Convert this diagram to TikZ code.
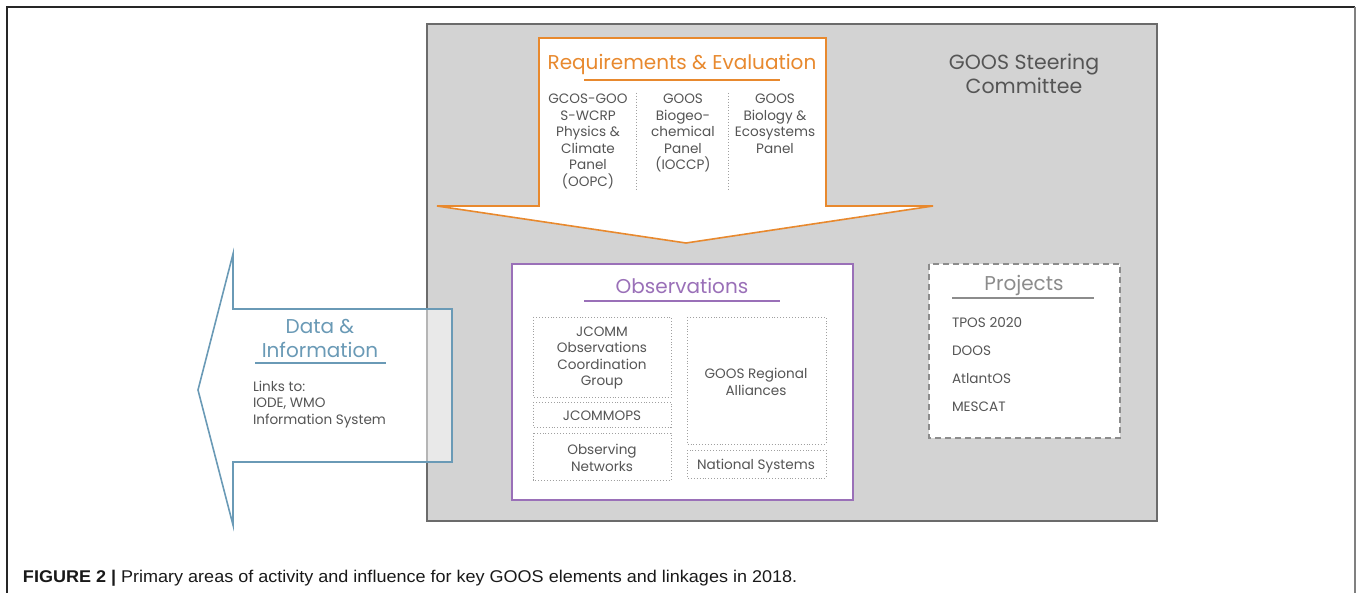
\documentclass[tikz,border=0pt]{standalone}
\usepackage{fontspec}
\setmainfont{Poppins}
\newfontfamily\capfont[FakeStretch=1.06]{Liberation Sans}
\definecolor{orangeC}{HTML}{E8892E}
\definecolor{purpleC}{HTML}{9A70B8}
\definecolor{blueC}{HTML}{6A9AB6}
\definecolor{textC}{HTML}{555555}
\definecolor{projC}{HTML}{8C8C8C}
\definecolor{steerFill}{HTML}{D3D3D3}
\definecolor{steerLine}{HTML}{6B6B6B}
\definecolor{dotC}{HTML}{A0A0A0}
\tikzset{
  body/.style={font=\fontsize{13.6}{16.6}\selectfont, text=textC, align=center},
  head/.style={font=\fontsize{20}{24}\selectfont},
  dotbox/.style={draw=dotC, dotted, line width=0.9pt},
  sep/.style={draw=dotC, dotted, line width=0.9pt},
}
\begin{document}
\begin{tikzpicture}[x=1pt,y=-1pt, every node/.style={inner sep=0pt, outer sep=0pt}]
\useasboundingbox (0,0) rectangle (1359,593);
% frame
\draw[line width=1.3pt, draw=black!85] (7,593) -- (7,7) -- (1355,7);
\draw[line width=1.3pt, draw=black!50] (1355,7) -- (1355,593);
% steering committee box
\fill[steerFill] (427,24) rectangle (1157,521);
\draw[steerLine, line width=2pt] (427,24) rectangle (1157,521);
\node[text=textC, align=center, font=\fontsize{20.5}{24}\selectfont] (sc) at (1024,74) {GOOS Steering\\Committee};
% requirements arrow
\draw[orangeC, line width=1.6pt, fill=white] (539,38) -- (826,38) -- (826,206) -- (933,206) -- (686,243) -- (437,206) -- (539,206) -- cycle;
\node[head, text=orangeC] (req) at (682,64) {Requirements \& Evaluation};
\draw[orangeC, line width=1.3pt] (584,80) -- (780,80);
\node[body, anchor=north] (oopc) at (588,94) {GCOS-GOO\\S-WCRP\\Physics \&\\Climate\\Panel\\(OOPC)};
\node[body, anchor=north] (ioccp) at (683,94) {GOOS\\Biogeo-\\chemical\\Panel\\(IOCCP)};
\node[body, anchor=north] (bio) at (775,94) {GOOS\\Biology \&\\Ecosystems\\Panel};
\draw[sep] (636,93) -- (636,190);
\draw[sep] (728,93) -- (728,190);
% data & information arrow
\draw[blueC, line width=1.6pt, fill=white, fill opacity=0.5] (452,309) -- (233,309) -- (233,254) -- (198,390) -- (233,525) -- (233,462) -- (452,462) -- cycle;
\node[text=blueC, align=center, font=\fontsize{20}{24}\selectfont] (di) at (320,338) {Data \&\\Information};
\draw[blueC, line width=1.3pt] (255,363) -- (386,363);
\node[body, align=left, anchor=north west] (links) at (253,381) {Links to:\\IODE, WMO\\Information System};
% observations
\draw[purpleC, line width=1.6pt, fill=white] (512,264) rectangle (853,500);
\node[head, text=purpleC] (obs) at (682,286) {Observations};
\draw[purpleC, line width=1.3pt] (584,301) -- (780,301);
\draw[dotbox] (533,317) rectangle (671,397);
\draw[dotbox] (533,402) rectangle (671,427);
\draw[dotbox] (533,433) rectangle (671,480);
\draw[dotbox] (687,317) rectangle (826,444);
\draw[dotbox] (687,450) rectangle (826,478);
\node[body] (jocg) at (602,358) {JCOMM\\Observations\\Coordination\\Group};
\node[body] (jops) at (602,416) {JCOMMOPS};
\node[body] (on) at (602,458) {Observing\\Networks};
\node[body] (gra) at (756,382) {GOOS Regional\\Alliances};
\node[body] (ns) at (756,466) {National Systems};
% projects
\draw[draw=projC, line width=1.6pt, dash pattern=on 6pt off 4pt, fill=white] (929,264) rectangle (1120,438);
\node[head, text=projC] (proj) at (1024,285) {Projects};
\draw[projC, line width=1.3pt] (952,298) -- (1094,298);
\node[body, anchor=west] (p1) at (952,323) {TPOS 2020};
\node[body, anchor=west] (p2) at (952,351) {DOOS};
\node[body, anchor=west] (p3) at (952,379) {AtlantOS};
\node[body, anchor=west] (p4) at (952,407) {MESCAT};
% caption
\node[anchor=west, font=\capfont\fontsize{17}{20}\selectfont, text=black!90] (cap) at (23,578) {\textbf{FIGURE 2 |} Primary areas of activity and influence for key GOOS elements and linkages in 2018.};
\end{tikzpicture}
\end{document}
